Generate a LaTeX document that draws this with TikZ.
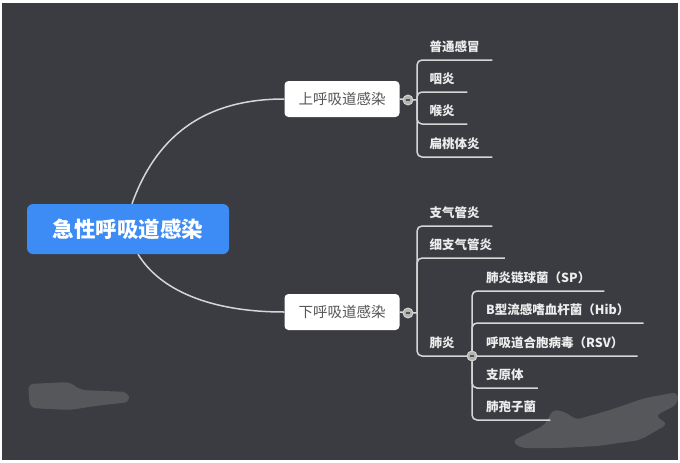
\documentclass[tikz,border=0pt]{standalone}
\usepackage{fontspec}
\setmainfont{Noto Sans CJK SC}
\usetikzlibrary{calc}
\definecolor{bgdark}{HTML}{3B3C42}
\definecolor{rootblue}{HTML}{3D8BF5}
\definecolor{linegray}{HTML}{D6D6D6}
\definecolor{leaftext}{HTML}{EDEDED}
\definecolor{topictext}{HTML}{555555}
\definecolor{foldfill}{HTML}{B4B4B4}
\definecolor{smudgegray}{HTML}{56575A}
\pgfdeclarelayer{back}
\pgfdeclarelayer{lines}
\pgfsetlayers{back,lines,main}
\tikzset{
  rootbox/.style={fill=rootblue, rounded corners=6pt, minimum width=202pt, minimum height=50pt,
    inner sep=0pt, text=white, font=\bfseries\fontsize{21.5}{24}\selectfont},
  topicbox/.style={fill=white, rounded corners=4pt, minimum width=115pt, minimum height=36pt,
    inner sep=0pt, text=topictext, font=\fontsize{14.5}{16}\selectfont},
  leaf/.style={anchor=south west, minimum height=26pt, inner xsep=12.5pt, inner ysep=0pt,
    text=leaftext, font=\bfseries\fontsize{12.5}{14}\selectfont},
  subleaf/.style={leaf, inner xsep=14pt},
  fold/.style={circle, minimum size=10pt, inner sep=0pt, fill=foldfill, draw=linegray, line width=0.9pt,
    path picture={\draw[topictext, line width=1.1pt]
      ([xshift=2.6pt]path picture bounding box.west) -- ([xshift=-2.6pt]path picture bounding box.east);}},
  conn/.style={draw=linegray, line width=1.5pt},
  branch/.style={conn, rounded corners=5pt},
  smudge/.style={fill=smudgegray, rounded corners=6pt}
}
\begin{document}
\begin{tikzpicture}[x=1pt, y=-1pt]
\useasboundingbox (0,0) rectangle (680,463);
\begin{pgfonlayer}{back}
  \fill[white] (0,0) rectangle (680,463);
  \fill[bgdark] (2,3) rectangle (678,460);
  % blurred marks
  \fill[smudge] (28,384) -- (70,382) -- (80,390) -- (128,392) -- (130,402) -- (95,406) -- (70,410) -- (30,408) -- cycle;
  \fill[smudge] (512,441) -- (545,425) -- (553,409) -- (568,413) -- (575,420) -- (610,410) -- (645,398) -- (678,392)
     -- (678,404) -- (655,416) -- (668,424) -- (640,440) -- (598,446) -- (560,448) -- (520,448) -- cycle;
\end{pgfonlayer}

% root and main topics
\node[rootbox] (root) at (128,229) {急性呼吸道感染};
\node[topicbox] (up) at (342,99) {上呼吸道感染};
\node[topicbox] (low) at (342,312) {下呼吸道感染};

% upper branch
\node[fold] (fu) at (408,100) {};
\coordinate (ju) at (417,100);
\node[leaf] (a1) at (417,60) {普通感冒};
\node[leaf] (a2) at (417,92) {咽炎};
\node[leaf] (a3) at (417,124) {喉炎};
\node[leaf] (a4) at (417,157) {扁桃体炎};

% lower branch
\node[fold] (fl) at (408,313) {};
\coordinate (jl) at (417,313);
\node[leaf] (b1) at (417,226) {支气管炎};
\node[leaf] (b2) at (417,258) {细支气管炎};
\node[leaf] (b3) at (417,356) {肺炎};

% pneumonia sub-branch
\node[fold] (ff) at (472,356) {};
\node[subleaf] (c1) at (472,291) {肺炎链球菌（SP）};
\node[subleaf] (c2) at (472,323) {B型流感嗜血杆菌（Hib）};
\node[subleaf] (c3) at (472,356) {呼吸道合胞病毒（RSV）};
\node[subleaf] (c4) at (472,388) {支原体};
\node[subleaf] (c5) at (472,420) {肺孢子菌};

\begin{pgfonlayer}{lines}
  \draw[conn] ([xshift=4pt]root.north) .. controls +(23,-64) and +(-84,0) .. (up.west);
  \draw[conn] ([xshift=10pt]root.south) .. controls +(22,36) and +(-74,0) .. (low.west);
  \draw[conn] (up.east) -- (ju);
  \draw[conn] (low.east) -- (jl);
  \foreach \n in {a1,a2,a3,a4} \draw[branch] (ju) |- (\n.south east);
  \foreach \n in {b1,b2,b3} \draw[branch] (jl) |- (\n.south east);
  \draw[conn] (b3.south east) -- (ff);
  \foreach \n in {c1,c2,c3,c4,c5} \draw[branch] (ff) |- (\n.south east);
\end{pgfonlayer}
\end{tikzpicture}
\end{document}
